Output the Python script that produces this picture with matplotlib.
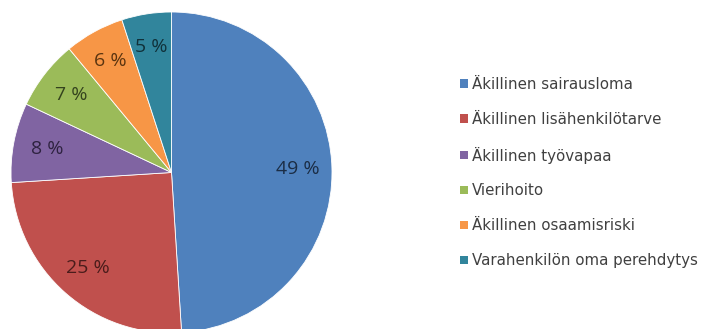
import matplotlib
matplotlib.use("Agg")
import matplotlib.pyplot as plt
from matplotlib.patches import Patch

plt.rcParams['font.family'] = ['Open Sans', 'DejaVu Sans']

categories = ["Äkillinen sairausloma", "Äkillinen lisähenkilötarve", "Äkillinen työvapaa",
              "Vierihoito", "Äkillinen osaamisriski", "Varahenkilön oma perehdytys"]
values = [49, 25, 8, 7, 6, 5]
colors = ["#4F81BD", "#C0504D", "#8064A2", "#9BBB59", "#F79646", "#31859C"]
label_colors = ["#1B2D45", "#4A1C1B", "#2E2240", "#34431E", "#5A3410", "#10313A"]

W, H = 701, 329
fig = plt.figure(figsize=(W/100, H/100), dpi=100)
cx, cy, r = 171.5, 172.5, 160.5
ax = fig.add_axes([(cx - r)/W, (H - cy - r)/H, 2*r/W, 2*r/H])
wedges, texts, autotexts = ax.pie(values, colors=colors, startangle=90, counterclock=False,
                                  autopct=lambda p: f"{p:.0f} %", pctdistance=0.79,
                                  wedgeprops=dict(edgecolor="white", linewidth=0.6),
                                  textprops=dict(fontsize=14))
for t, c in zip(autotexts, label_colors):
    t.set_color(c)
ax.set_xlim(-1, 1)
ax.set_ylim(-1, 1)
ax.set_aspect('equal')
ax.axis('off')
for w in wedges:
    w.set_clip_on(False)

handles = [Patch(facecolor=c, edgecolor='none') for c in colors]
leg = fig.legend(handles, categories, loc='center left',
                 bbox_to_anchor=(460/W, 1 - 172.5/H), frameon=False,
                 handlelength=0.5, handleheight=0.5, handletextpad=0.3,
                 labelspacing=1.33, borderpad=0, borderaxespad=0,
                 prop=dict(family='DejaVu Sans', size=10.8))
for t in leg.get_texts():
    t.set_color("#404040")

fig.savefig("out.png", dpi=100)
